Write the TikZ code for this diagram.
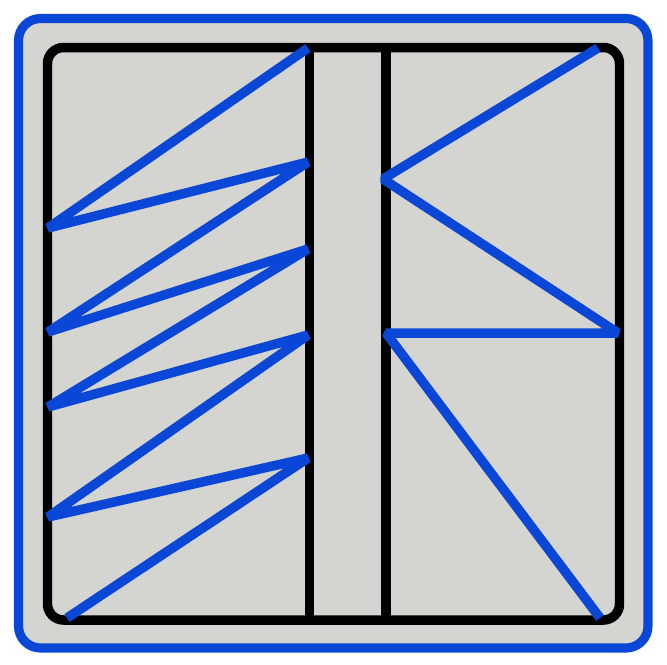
\documentclass[tikz,border=0pt]{standalone}
\usepackage{xcolor}
\usepackage{tikz}
\definecolor{frameblue}{RGB}{11,71,214}
\definecolor{panelgray}{RGB}{212,212,208}

\begin{document}
\begin{tikzpicture}[x=0.02cm,y=-0.02cm]
        %GRID
        %\draw[lightgray] (0,0) grid (667,664);
        \useasboundingbox (0,0) rectangle (667,664);
        %FRAME
        \filldraw[fill=panelgray, draw=frameblue, line width=5.2pt, rounded corners=0.44cm] (18.5,18.5) rectangle (648,648);
        \draw[black, line width=5.4pt, rounded corners=0.32cm] (47.5,47.5) rectangle (619.5,620);
        %MULLION
        \draw[black, line width=5.2pt] (309.5,47.5) -- (309.5,620);
        \draw[black, line width=5.2pt] (386,47.5) -- (386,620);
        %ZIGZAG LEFT
        \draw[frameblue, line width=5.4pt, line join=bevel]
        (308,48) -- (48,228) -- (308,162) -- (48,332) -- (308,249)
        -- (48,407) -- (308,335) -- (48,517) -- (308,458) -- (67,618);
        %ZIGZAG RIGHT
        \draw[frameblue, line width=5.4pt, line join=bevel]
        (598,48) -- (383,179) -- (618,333) -- (386,333) -- (600,618);
    \end{tikzpicture}
\end{document}
